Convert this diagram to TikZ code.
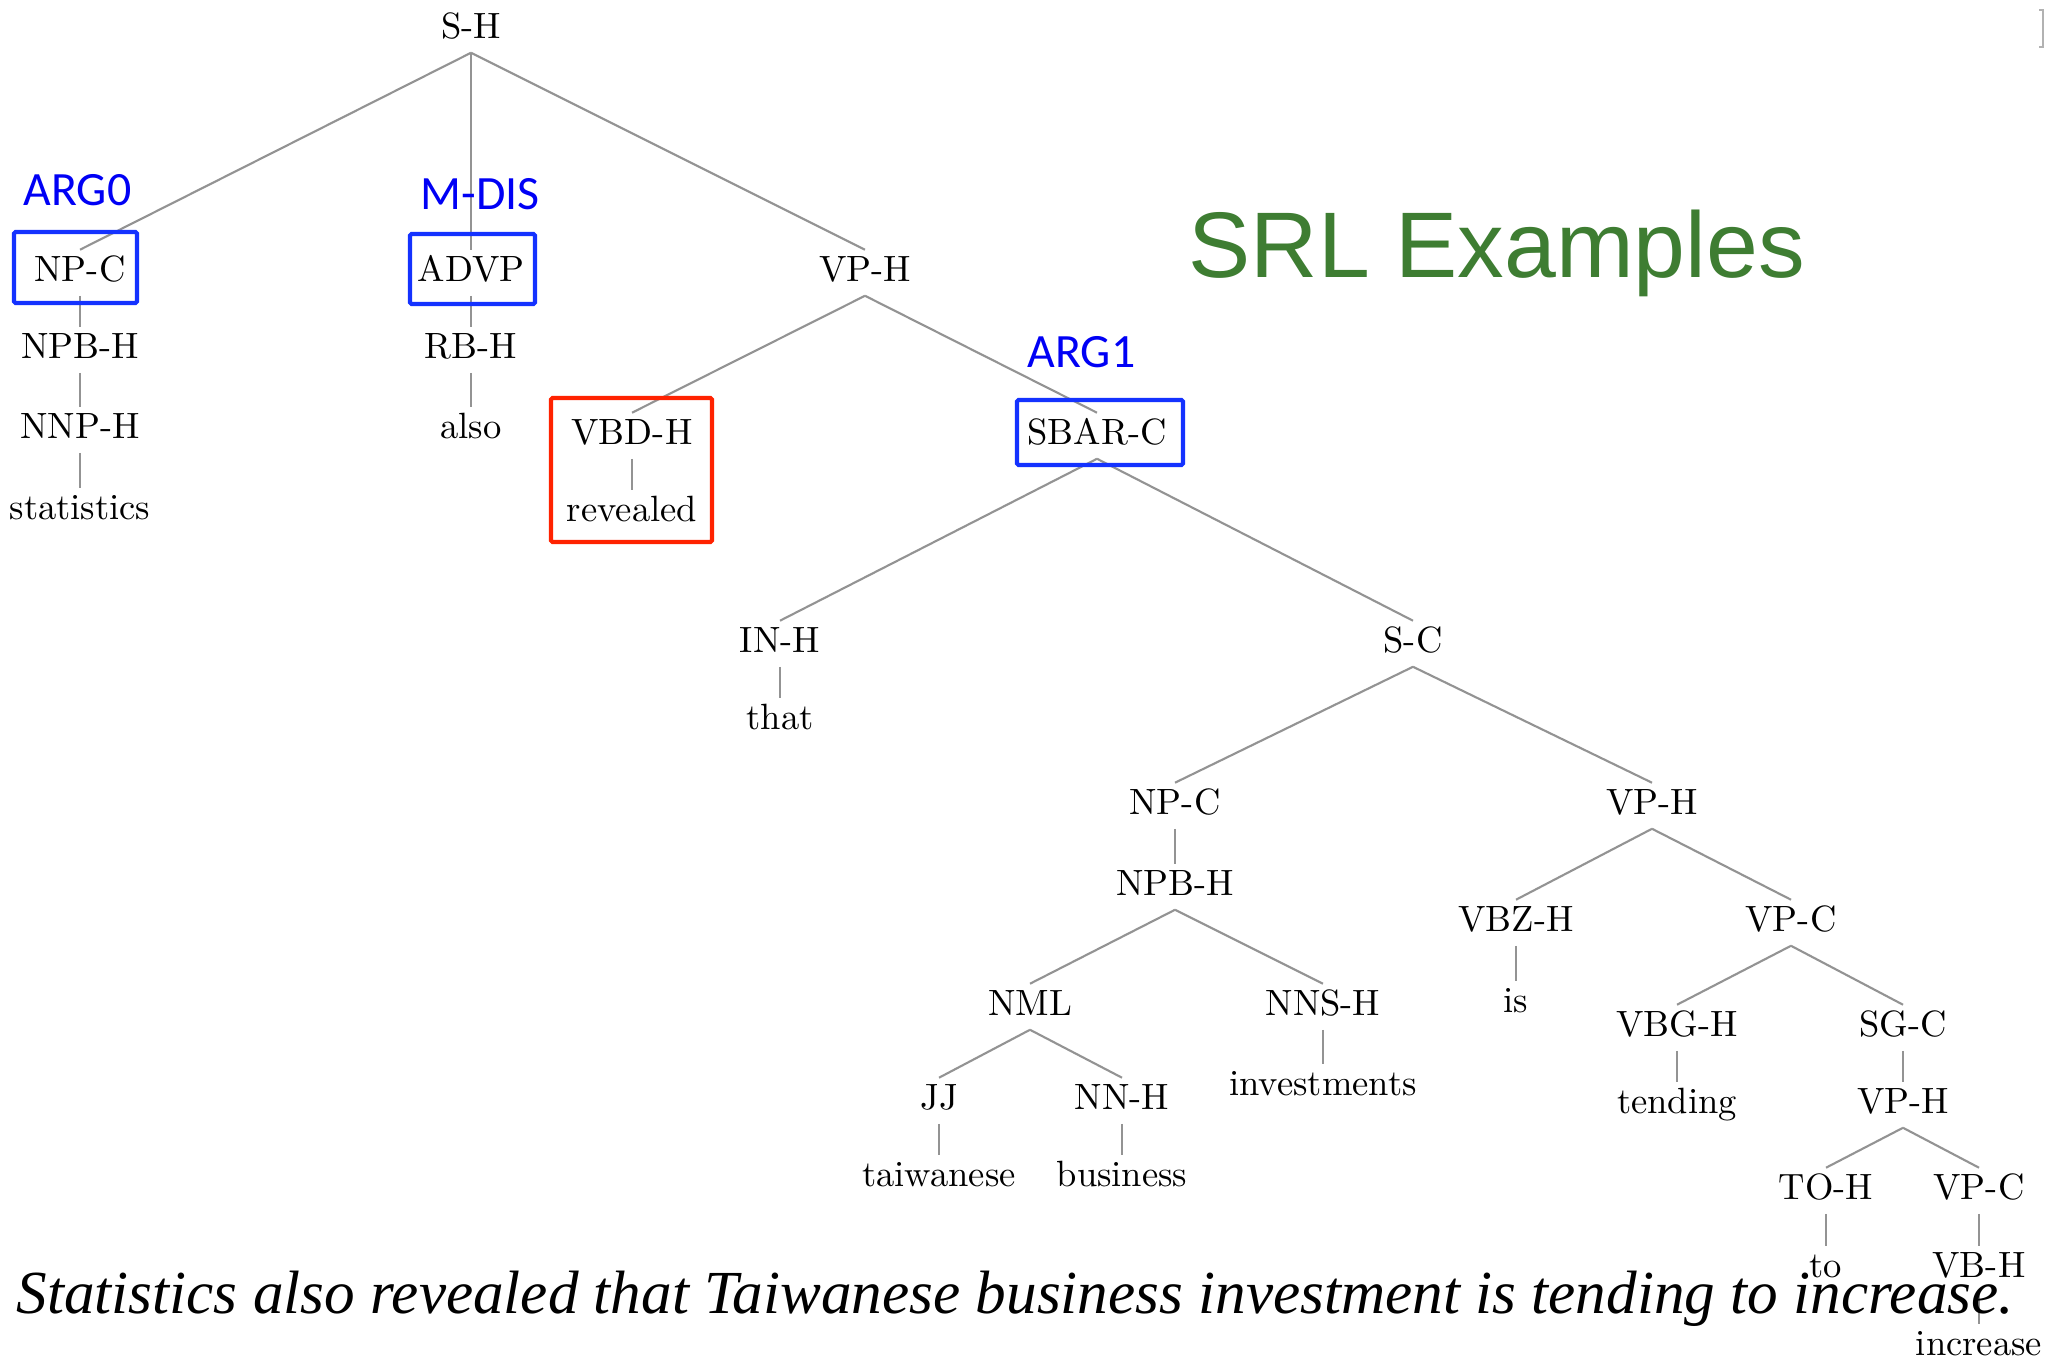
\documentclass[tikz,border=0pt]{standalone}
\usepackage{fontspec}
\newfontfamily\argfont{Carlito}
\newfontfamily\titlefont{Liberation Sans}
\newfontfamily\capfont{Liberation Serif}
\definecolor{argblue}{RGB}{0,0,245}
\definecolor{boxblue}{RGB}{20,50,255}
\definecolor{boxred}{RGB}{255,34,0}
\definecolor{srlgreen}{RGB}{62,125,50}
\tikzset{
  tn/.style={font=\fontsize{10.4}{12}\selectfont, inner sep=1.5pt,
    text height=7.2pt, text depth=2.5pt, anchor=base},
  edge/.style={draw=gray!85, line width=0.6pt},
  rolebox/.style={line width=1.15pt, rounded corners=0.4pt},
  role/.style={font=\argfont\fontsize{13.6}{15}\selectfont, text=argblue,
    inner sep=0pt, anchor=base west}
}
\begin{document}
\begin{tikzpicture}[x=0.01cm,y=-0.01cm]
  \useasboundingbox (0,0) rectangle (2048,1360);

  % the tree
  \node[tn] (sh) at (471,38) {S-H};
  \node[tn] (npc) at (80,281) {NP-C};
  \node[tn] (advp) at (471,281) {ADVP};
  \node[tn] (vph) at (865,281) {VP-H};
  \node[tn] (npbh) at (80,358) {NPB-H};
  \node[tn] (nnph) at (80,438) {NNP-H};
  \node[tn] (statistics) at (80,519) {statistics};
  \node[tn] (rbh) at (471,358) {RB-H};
  \node[tn] (also) at (471,438) {also};
  \node[tn] (vbdh) at (632,444) {VBD-H};
  \node[tn] (revealed) at (632,521) {revealed};
  \node[tn] (sbarc) at (1097,444) {SBAR-C};
  \node[tn] (inh) at (780,652) {IN-H};
  \node[tn] (that) at (780,729) {that};
  \node[tn] (sc) at (1413,652) {S-C};
  \node[tn] (npcb) at (1175,814) {NP-C};
  \node[tn] (npbhb) at (1175,895) {NPB-H};
  \node[tn] (nml) at (1030,1015) {NML};
  \node[tn] (nnsh) at (1323,1015) {NNS-H};
  \node[tn] (investments) at (1323,1095) {investments};
  \node[tn] (jj) at (939,1109) {JJ};
  \node[tn] (taiwanese) at (939,1186) {taiwanese};
  \node[tn] (nnh) at (1122,1109) {NN-H};
  \node[tn] (business) at (1122,1186) {business};
  \node[tn] (vphb) at (1652,814) {VP-H};
  \node[tn] (vbzh) at (1516,931) {VBZ-H};
  \node[tn] (is) at (1516,1012) {is};
  \node[tn] (vpc) at (1791,931) {VP-C};
  \node[tn] (vbgh) at (1677,1036) {VBG-H};
  \node[tn] (tending) at (1677,1113) {tending};
  \node[tn] (sgc) at (1903,1036) {SG-C};
  \node[tn] (vphc) at (1903,1113) {VP-H};
  \node[tn] (toh) at (1826,1199) {TO-H};
  \node[tn] (to) at (1826,1277) {to};
  \node[tn] (vpcc) at (1979,1199) {VP-C};
  \node[tn] (vbh) at (1979,1277) {VB-H};
  \node[tn] (increase) at (1979,1355) {increase};

  \foreach \a/\b in {sh/npc, sh/advp, sh/vph, npc/npbh, npbh/nnph,
      nnph/statistics, advp/rbh, rbh/also, vph/vbdh, vph/sbarc,
      vbdh/revealed, sbarc/inh, sbarc/sc, inh/that, sc/npcb, sc/vphb,
      npcb/npbhb, npbhb/nml, npbhb/nnsh, nml/jj, nml/nnh, jj/taiwanese,
      nnh/business, nnsh/investments, vphb/vbzh, vphb/vpc, vbzh/is,
      vpc/vbgh, vpc/sgc, vbgh/tending, sgc/vphc, vphc/toh, vphc/vpcc,
      toh/to, vpcc/vbh, vbh/increase}
    \draw[edge] (\a.south) -- (\b.north);

  % role boxes
  \draw[rolebox, boxblue] (14,232) rectangle (137,303);
  \draw[rolebox, boxblue] (410,234) rectangle (535,304);
  \draw[rolebox, boxblue] (1017,400) rectangle (1183,465);
  \draw[rolebox, boxred] (551,398) rectangle (712,542);

  \node[role] (arg0) at (23,205) {ARG0};
  \node[role] (mdis) at (420,209) {M-DIS};
  \node[role] (arg1) at (1027,367) {ARG1};

  \node[font=\titlefont\fontsize{26.5}{30}\selectfont, text=srlgreen,
    inner sep=0pt, anchor=base west] (title) at (1188,277) {SRL Examples};

  \node[font=\capfont\itshape\fontsize{17.4}{21}\selectfont,
    inner sep=0pt, anchor=base west] (sentence) at (16,1313)
    {Statistics also revealed that Taiwanese business investment is tending to increase.};

  % cut-off mark at the right edge
  \draw[gray!60, line width=0.5pt] (2039,10) -- (2043,10) -- (2043,47) -- (2039,47);
\end{tikzpicture}
\end{document}
